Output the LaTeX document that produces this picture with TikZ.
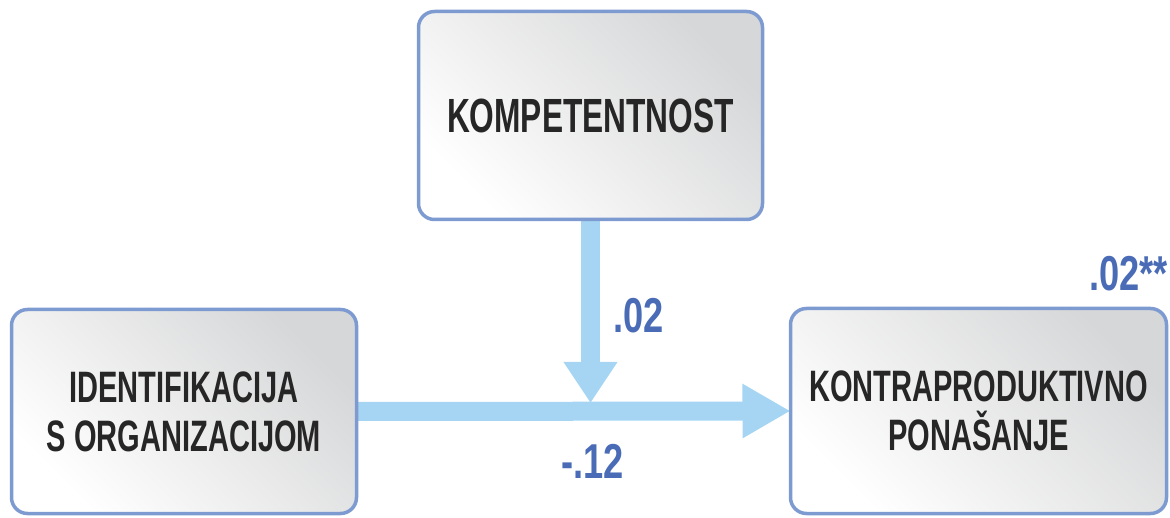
\documentclass[tikz,border=0pt]{standalone}
\usepackage{fontspec}
\usetikzlibrary{arrows.meta,backgrounds}
\newfontfamily\boxfont[FakeStretch=0.66]{Liberation Sans}
\newfontfamily\numfont[FakeStretch=0.74]{Liberation Sans}
\definecolor{boxborder}{HTML}{7D9BD1}
\definecolor{boxgray}{HTML}{D6D7D8}
\definecolor{arrowblue}{HTML}{A5D5F3}
\definecolor{numblue}{HTML}{4A6CB7}
\definecolor{txtdark}{HTML}{262626}
\tikzset{
  varbox/.style={draw=boxborder, line width=3.5pt, rounded corners=16pt,
    top color=boxgray, bottom color=white, shading angle=-45,
    inner sep=0pt, outer sep=0pt, align=center, text=txtdark,
    font={\boxfont\bfseries\fontsize{44}{49}\selectfont}},
  bigtext/.style={font={\boxfont\bfseries\fontsize{48}{54}\selectfont}},
  coef/.style={text=numblue, inner sep=0pt, outer sep=0pt,
    font={\numfont\bfseries\fontsize{49}{54}\selectfont}},
  arrowline/.style={draw=arrowblue, line width=19pt}
}
\begin{document}
\begin{tikzpicture}[x=1pt,y=-1pt]
\useasboundingbox (0,0) rectangle (1170,518);
\node[varbox, bigtext, minimum width=344pt, minimum height=208pt] (komp) at (590.5,115.5) {KOMPETENTNOST};
\node[varbox, minimum width=345pt, minimum height=204pt] (ident) at (184,411.5) {IDENTIFIKACIJA\\S ORGANIZACIJOM};
\node[varbox, minimum width=376pt, minimum height=205pt] (kontra) at (978.5,411) {KONTRAPRODUKTIVNO\\PONAŠANJE};
\coordinate (join) at (590.5,403);
\begin{pgfonlayer}{background}
\draw[arrowline, -{Triangle[length=48pt,width=51pt]}] (ident.east) -- (kontra.west);
\draw[arrowline, -{Triangle[length=41pt,width=51pt]}] (komp.south) -- (join);
\end{pgfonlayer}
\node[coef, anchor=base west] (c1) at (613,333) {.02};
\node[coef, anchor=base west] (c2) at (561,478) {-.12};
\node[coef, anchor=base east] (c3) at (1168,291) {.02**};
\end{tikzpicture}
\end{document}
